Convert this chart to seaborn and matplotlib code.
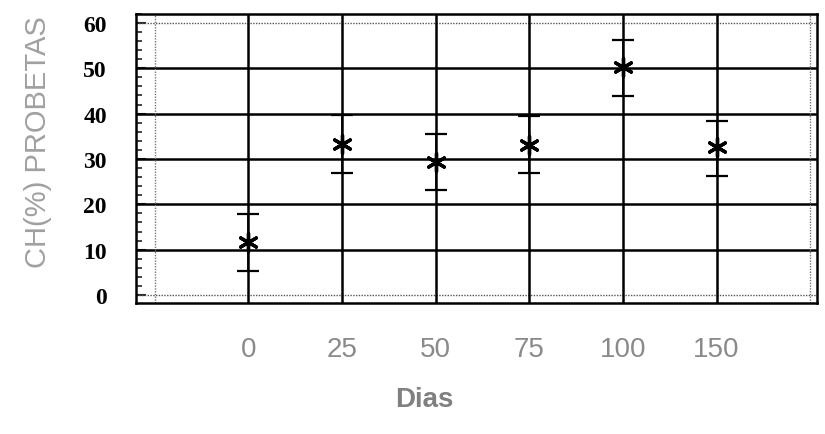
import matplotlib
matplotlib.use("Agg")
import matplotlib.pyplot as plt
import seaborn as sns
import pandas as pd
import numpy as np
from matplotlib.ticker import MultipleLocator

dias = ["0", "25", "50", "75", "100", "150"]
ch_mean = [11.6, 33.3, 29.4, 33.0, 50.2, 32.6]
ch_upper = [17.9, 39.7, 35.5, 39.4, 56.3, 38.3]
ch_lower = [5.4, 26.9, 23.2, 26.9, 43.9, 26.3]
y_ticks = [0, 10, 20, 30, 40, 50, 60]

df = pd.DataFrame({"Dias": dias, "CH": ch_mean, "up": ch_upper, "lo": ch_lower})

sns.set_style("white")
fig = plt.figure(figsize=(8.25, 4.35), dpi=100)
ax = fig.add_axes([0.165, 0.301, 0.825, 0.665])

pos = np.arange(len(dias))
# grid lines
for yv in y_ticks[1:-1]:
    ax.axhline(yv, color="black", lw=1.8, zorder=1)
for yv in (y_ticks[0], y_ticks[-1]):
    ax.axhline(yv, color="#555555", lw=1.0, ls=(0, (1, 1)), zorder=1)
for xv in pos:
    ax.axvline(xv, color="black", lw=1.8, zorder=1)
ax.axvline(-1, color="#777777", lw=1.0, ls=(0, (1, 1)), zorder=1)
ax.axvline(len(dias), color="#777777", lw=1.0, ls=(0, (1, 1)), zorder=1)

err = np.array([df["CH"] - df["lo"], df["up"] - df["CH"]])
ax.errorbar(pos, df["CH"], yerr=err, fmt="none", ecolor="black",
            elinewidth=1.2, capsize=8, capthick=1.6, zorder=2)
sns.scatterplot(data=df, x="Dias", y="CH", marker=(6, 2, 0), s=170,
                color="black", linewidth=2.4, ax=ax, zorder=3, legend=False)

ax.set_xlim(-1.2, 6.07)
ax.set_ylim(-1.76, 62.0)
ax.set_xticks(pos)
ax.set_xticklabels(dias, fontsize=20, color="#8a8a8a", family="Liberation Sans")
ax.set_yticks(y_ticks)
ax.set_yticklabels([str(v) for v in y_ticks], fontsize=17, fontweight="bold",
                   family="Liberation Serif", color="black")
ax.yaxis.set_minor_locator(MultipleLocator(2))
ax.tick_params(axis="y", which="major", direction="in", length=7, width=1.5, pad=21, left=True)
ax.tick_params(axis="y", which="minor", direction="in", length=4, width=1.2, left=True)
ax.tick_params(axis="x", which="both", length=0, pad=24)

for s in ax.spines.values():
    s.set_color("black")
    s.set_linewidth(1.8)

ax.set_xlabel("Dias", fontsize=20, color="#808080", family="Liberation Sans", fontweight="bold")
ax.xaxis.set_label_coords(0.424, -0.285)
ax.set_ylabel("CH(%) PROBETAS", fontsize=21, color="#a0a0a0", family="Liberation Sans")
ax.yaxis.set_label_coords(-0.124, 0.56)

fig.savefig("out.png", dpi=100)
